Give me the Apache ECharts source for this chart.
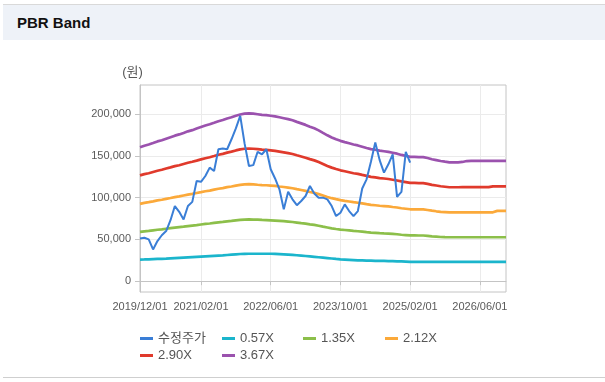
<!DOCTYPE html>
<html>
<head>
<meta charset="utf-8">
<script src="https://cdn.jsdelivr.net/npm/echarts@6.0.0/dist/echarts.min.js"></script>
<style>
  html, body { margin: 0; padding: 0; background: #ffffff; width: 605px; height: 382px; overflow: hidden; }
  #head { position: absolute; left: 3px; top: 4px; width: 602px; height: 35px; background: #eef2f8; border-top: 1px solid #d9d9d9; }
  #head span { position: absolute; left: 14px; top: 9px; font-family: "Liberation Sans", Arial, sans-serif; font-weight: bold; font-size: 15px; color: #111; }
  #foot { position: absolute; left: 3px; top: 377px; width: 602px; height: 0; border-top: 1px solid #cfcfcf; }
  #chart { position: absolute; left: 0; top: 0; width: 605px; height: 382px; }
</style>
</head>
<body>
<div id="head"><span>PBR Band</span></div>
<div id="foot"></div>
<div id="chart"></div>
<script>
const categories = [
  '2019/12/01',
  '2020/01/01','2020/02/01','2020/03/01','2020/04/01','2020/05/01','2020/06/01','2020/07/01','2020/08/01','2020/09/01','2020/10/01','2020/11/01','2020/12/01',
  '2021/01/01','2021/02/01','2021/03/01','2021/04/01','2021/05/01','2021/06/01','2021/07/01','2021/08/01','2021/09/01','2021/10/01','2021/11/01','2021/12/01',
  '2022/01/01','2022/02/01','2022/03/01','2022/04/01','2022/05/01','2022/06/01','2022/07/01','2022/08/01','2022/09/01','2022/10/01','2022/11/01','2022/12/01',
  '2023/01/01','2023/02/01','2023/03/01','2023/04/01','2023/05/01','2023/06/01','2023/07/01','2023/08/01','2023/09/01','2023/10/01','2023/11/01','2023/12/01',
  '2024/01/01','2024/02/01','2024/03/01','2024/04/01','2024/05/01','2024/06/01','2024/07/01','2024/08/01','2024/09/01','2024/10/01','2024/11/01','2024/12/01',
  '2025/01/01','2025/02/01','2025/03/01','2025/04/01','2025/05/01','2025/06/01','2025/07/01','2025/08/01','2025/09/01','2025/10/01','2025/11/01','2025/12/01',
  '2026/01/01','2026/02/01','2026/03/01','2026/04/01','2026/05/01','2026/06/01','2026/07/01','2026/08/01','2026/09/01','2026/10/01','2026/11/01','2026/12/01'
];
const xTickLabels = ['2019/12/01','2021/02/01','2022/06/01','2023/10/01','2025/02/01','2026/06/01'];
const yTickValues = [0, 50000, 100000, 150000, 200000];

const seriesNames = ['수정주가','0.57X','1.35X','2.12X','2.90X','3.67X'];

const price = [
  51000,52000,50000,38000,48000,55000,60000,73000,90000,83000,
  74000,90000,95000,120000,119000,126000,136000,132000,158000,159000,
  158000,170000,183000,198000,165000,138000,139000,155000,152000,158000,
  134000,123000,110000,86000,107000,98000,91000,96000,102000,114000,
  105000,100000,100000,98000,90000,78000,82000,92000,84000,78000,
  84000,111000,122000,143000,166000,145000,130000,140000,152000,101000,
  107000,155000,142000
];

const band057 = [
  25900,26000,26200,26400,26600,26800,27000,27300,27600,27900,28200,28500,28800,29100,29400,29700,30000,30300,30600,30900,31300,31700,32100,32500,32700,32800,
  32800,32800,32800,32800,32800,32600,32300,32000,31700,31400,31000,30600,30100,29600,29100,28600,28100,27600,27100,26600,26200,25900,25600,25300,25000,24800,24600,24500,24400,24300,24200,24100,24000,23800,23600,23400,23200,
  23100,23100,23100,23100,23100,23100,23100,23100,23100,23100,23100,23100,23100,23100,23100,23100,23100,23100,23100,23100,23100,23100
];
const band135 = [
  59000,59700,60200,60900,61600,62100,62800,63500,64100,64700,65300,66000,66600,67200,67900,68600,69100,69800,70500,71000,71700,72200,72900,73400,73800,74000,
  73800,73600,73300,73200,72900,72600,72200,71800,71400,70900,70200,69500,68900,68000,67400,66400,65300,64300,63300,62500,61800,61300,60800,60200,59800,59300,58700,58200,57900,57500,57200,57000,56600,56200,55600,55200,54800,
  54800,54700,54700,54300,53700,53300,52900,52700,52600,52600,52600,52600,52600,52600,52600,52600,52600,52600,52600,52600,52600,52600
];
const band212 = [
  92600,93700,94600,95600,96700,97500,98600,99600,100700,101500,102600,103700,104500,105600,106600,107700,108500,109600,110700,111500,112600,113400,114500,115300,116000,116200,
  116000,115500,115100,114900,114500,114100,113400,112800,112100,111300,110200,109200,108100,106800,105800,104300,102600,100900,99400,98200,97100,96200,95400,94600,93900,93100,92200,91400,90900,90300,89900,89500,88800,88200,87300,86700,86100,
  86100,85900,85900,85200,84400,83700,83100,82700,82300,82300,82300,82500,82500,82500,82500,82500,82500,82500,82500,84200,84200,84200
];
const band290 = [
  126700,128200,129300,130800,132200,133400,134900,136300,137800,138900,140400,141800,143000,144400,145900,147300,148500,149900,151400,152500,154000,155200,156600,157800,158600,158900,
  158600,158100,157500,157200,156600,156000,155200,154300,153400,152300,150800,149400,147900,146200,144700,142700,140400,138000,136000,134300,132800,131700,130500,129300,128500,127300,126200,125000,124400,123500,123000,122400,121500,120600,119500,118600,117700,
  117700,117500,117500,116600,115400,114600,113700,113100,112500,112500,112500,112600,112600,112600,112600,112600,112600,112600,113600,113600,113600,113600
];
const band367 = [
  160400,162200,163700,165500,167400,168800,170700,172500,174300,175800,177600,179500,180900,182800,184600,186400,187900,189700,191600,193000,194900,196300,198200,199600,200700,201100,
  200700,200000,199300,198900,198200,197400,196300,195200,194100,192700,190800,189000,187200,185000,183100,180600,177600,174700,172100,169900,168100,166600,165200,163700,162600,161100,159600,158200,157400,156300,155600,154900,153800,152700,151200,150100,149000,
  149000,148600,148600,147500,146100,145000,143900,143100,142400,142400,142400,142800,143900,144200,144200,144200,144200,144200,144200,144200,144200,144200
];

const colors = ['#3a7ed6', '#1bb5cc', '#8cbf4a', '#fba93a', '#e03a2c', '#9b52ae'];
const seriesData = [price, band057, band135, band212, band290, band367];

const chart = echarts.init(document.getElementById('chart'), null, { renderer: 'canvas' });
const showTick = (idx, val) => xTickLabels.indexOf(val) >= 0;
const fontFam = '"Liberation Sans", Arial, "Noto Sans CJK KR", sans-serif';

// legend slots: one legend per item, laid out in a 4-column grid
const legendLeft = [135, 217, 298, 380, 135, 217];
const legendTop = [327, 327, 327, 327, 344, 344];
const legends = seriesNames.map((n, k) => ({
  icon: 'rect',
  itemWidth: 13,
  itemHeight: 3,
  left: legendLeft[k],
  top: legendTop[k],
  data: [n],
  textStyle: { color: '#555', fontSize: 13, fontFamily: fontFam }
}));

chart.setOption({
  animation: false,
  color: colors,
  grid: { left: 140, right: 99, top: 85, bottom: 90, show: true, borderColor: '#c4c4c4', borderWidth: 1, outerBoundsMode: 'none' },
  legend: legends,
  xAxis: {
    type: 'category',
    data: categories,
    boundaryGap: false,
    axisLine: { lineStyle: { color: '#c4c4c4' } },
    axisTick: { show: true, interval: showTick, length: 4, lineStyle: { color: '#c4c4c4' } },
    splitLine: { show: true, interval: showTick, lineStyle: { color: '#ebebeb' } },
    axisLabel: { interval: showTick, color: '#5a5a5a', fontSize: 11, fontFamily: fontFam, margin: 9 }
  },
  yAxis: {
    type: 'value',
    min: -13000,
    max: 235000,
    name: '(원)',
    nameLocation: 'end',
    nameGap: 6,
    nameTextStyle: { color: '#555', fontSize: 13, fontFamily: fontFam, align: 'center', padding: [0, 15, 0, 0] },
    axisLine: { show: true, lineStyle: { color: '#c4c4c4' } },
    axisTick: { show: true, length: 5, customValues: yTickValues, lineStyle: { color: '#c4c4c4' } },
    splitLine: { show: true, lineStyle: { color: '#ebebeb' } },
    axisLabel: {
      customValues: yTickValues,
      color: '#5a5a5a', fontSize: 11, fontFamily: fontFam, margin: 9,
      formatter: v => v.toLocaleString('en-US')
    }
  },
  series: seriesNames.map((n, k) => ({
    name: n,
    type: 'line',
    data: seriesData[k],
    symbol: 'none',
    z: k === 0 ? 5 : 2,
    lineStyle: { width: k === 0 ? 2 : 2.7, color: colors[k] },
    itemStyle: { color: colors[k] }
  }))
});
</script>
</body>
</html>
